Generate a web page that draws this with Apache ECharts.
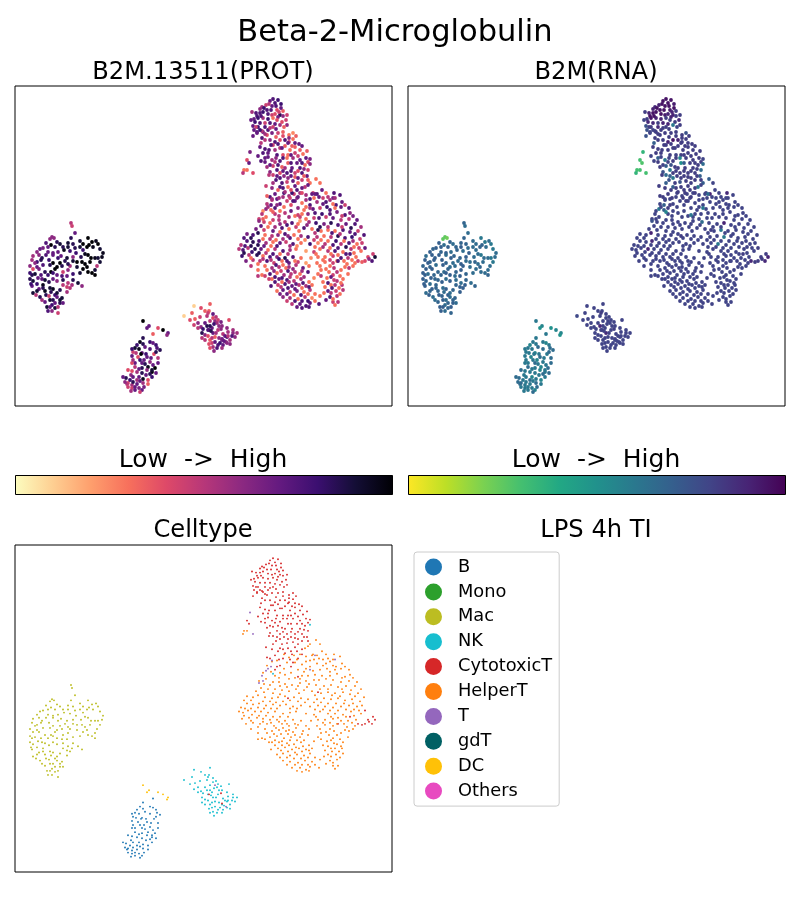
<!DOCTYPE html>
<html><head><meta charset="utf-8">
<script src="https://cdn.jsdelivr.net/npm/echarts@6/dist/echarts.min.js"></script>
<style>html,body{margin:0;padding:0;background:#fff}#c{width:800px;height:900px}</style>
</head><body><div id="c"></div>
<script>
// Each point: [umap x, umap y, protein level, RNA level]
const cytotoxicT = [[255,15,.7,.95],[260,17,.75,.95],[266,18,.8,.92],[251,19,.45,.9],[257,20,.7,.95],[247,21,.55,.88],[252,24,.75,.95],[248,26,.8,.95],[245,27,.75,.95],[237,26,.55,.82],[262,24,.4,.92],[268,25,.35,.82],[265,29,.85,.9],[257,29,.45,.92],[242,30,.75,.95],[239,33,.7,.82],[243,32,.8,.95],[248,32,.55,.9],[258,32,.3,.82],[263,31,.65,.9],[271,34,.45,.88],[267,36,.4,.82],[260,38,.7,.9],[255,37,.75,.9],[250,37,.45,.82],[245,37,.75,.88],[238,40,.7,.75],[243,41,.8,.82],[248,46,.7,.82],[253,44,.75,.82],[258,41,.45,.82],[265,39,.55,.6],[272,39,.6,.82],[242,46,.75,.8],[238,50,.7,.75],[247,45,.5,.82],[252,49,.4,.82],[257,47,.65,.82],[263,47,.45,.82],[268,46,.35,.82],[274,49,.3,.82],[278,47,.25,.75],[242,47,.7,.8],[247,52,.75,.82],[250,54,.5,.82],[255,54,.6,.82],[260,56,.75,.9],[265,54,.4,.95],[270,54,.75,.9],[274,56,.45,.82],[278,53,.3,.82],[284,58,.7,.82],[246,57,.5,.7],[258,59,.45,.82],[270,60,.35,.82],[273,57,.7,.82],[280,61,.35,.82],[245,61,.7,.82],[250,63,.75,.82],[254,64,.75,.82],[260,64,.55,.82],[265,62,.5,.82],[275,64,.3,.82],[285,64,.35,.82],[248,67,.75,.82],[253,67,.7,.82],[262,69,.75,.82],[268,69,.4,.8],[273,69,.3,.82],[280,67,.45,.82],[288,68,.3,.82],[243,70,.7,.8],[250,72,.7,.7],[257,74,.55,.6],[265,75,.75,.82],[272,72,.3,.55],[278,72,.55,.82],[285,74,.7,.82],[295,73,.65,.8],[232,74,.4,.3],[234,77,.7,.28],[246,75,.75,.8],[250,76,.7,.82],[260,76,.5,.8],[267,81,.35,.82],[273,77,.35,.5],[282,77,.7,.82],[290,79,.3,.82],[252,81,.55,.82],[258,80,.45,.7],[270,82,.55,.82],[277,82,.7,.82],[285,82,.75,.82],[293,84,.45,.65],[255,86,.6,.75],[262,84,.75,.6],[258,89,.45,.65],[265,87,.4,.82],[272,87,.75,.82],[280,87,.45,.82],[287,87,.75,.82],[292,90,.7,.7],[254,89,.5,.82],[265,92,.75,.6],[273,92,.6,.82],[280,91,.35,.82],[287,94,.45,.82],[258,97,.55,.7],[267,97,.75,.82],[272,96,.45,.75],[283,97,.35,.82],[251,100,.45,.82],[257,102,.6,.82],[265,101,.75,.7],[273,101,.3,.82],[280,100,.7,.82],[270,106,.55,.82],[277,107,.8,.82],[287,107,.4,.82],[255,111,.75,.82],[252,110,.35,.82],[275,112,.45,.82],[283,111,.7,.82],[268,111,.55,.8],[265,118,.7,.8],[262,119,.6,.82],[260,122,.75,.82],[283,129,.45,.6],[276,119,.4,.8],[350,162,.7,.82],[335,168,.75,.82],[343,175,.45,.88],[347,176,.35,.82],[350,175,.4,.82],[353,171,.4,.82],[358,168,.45,.82],[360,171,.9,.9],[357,175,.75,.88],[354,173,.6,.82],[303,144,.85,.82],[323,175,.75,.8],[273,150,.6,.82],
[258,13,.75,.95],[263,14,.8,.95],[254,18,.5,.95],[261,20,.75,.95],[256,24,.75,.95],[245,23,.6,.9],[249,22,.8,.95],[266,22,.7,.95],[264,26,.45,.9],[241,27,.75,.9],[253,28,.75,.95],[260,28,.4,.9],[268,30,.6,.82],[240,36,.8,.88],[246,30,.75,.95],[253,33,.8,.9],[262,34,.4,.82],[272,29,.45,.82],[236,34,.7,.8],[241,41,.45,.82],[250,41,.75,.88],[255,42,.5,.82],[261,43,.7,.82],[269,41,.35,.8],[245,44,.8,.8],[239,44,.7,.75],[250,48,.55,.82],[261,51,.35,.82],[268,50,.4,.82],[274,52,.6,.82],[281,50,.35,.82],[256,59,.75,.82],[263,58,.75,.82],[280,57,.7,.82],[287,60,.7,.82],[267,62,.7,.82],[277,60,.35,.82],[292,65,.35,.82],[253,71,.7,.8],[261,72,.6,.8],[268,72,.75,.82],[276,69,.7,.82],[283,70,.45,.82],[291,72,.7,.82],[263,79,.75,.75],[276,77,.75,.7],[287,77,.75,.82],[293,76,.4,.82],[255,79,.7,.8],[268,85,.7,.82],[276,85,.75,.82],[283,85,.4,.82],[289,83,.6,.82],[262,90,.7,.7],[269,90,.6,.82],[276,90,.7,.82],[283,92,.7,.82],[289,90,.35,.82],[261,94,.75,.75],[278,95,.7,.82],[293,94,.35,.82],[263,104,.35,.82],[268,102,.75,.82],[276,104,.4,.82],[282,104,.75,.82],[287,102,.7,.82],[260,108,.7,.82],[264,112,.55,.82],[278,115,.75,.82],[194,244,.75,.82],[206,243,.6,.82],[207,253,.7,.82]];
const helperT = [[229,84,.3,.3],[232,84,.3,.3],[228,87,.5,.35],[301,93,.3,.7],[305,97,.3,.8],[295,97,.3,.7],[290,101,.5,.6],[293,99,.7,.8],[298,107,.45,.8],[307,104,.7,.8],[319,107,.75,.88],[325,109,.75,.8],[302,108,.75,.9],[311,107,.3,.8],[308,112,.45,.8],[318,112,.65,.8],[269,107,.8,.8],[279,108,.45,.8],[285,107,.55,.8],[291,109,.55,.8],[297,108,.7,.8],[304,111,.7,.8],[313,111,.5,.8],[274,110,.55,.8],[282,112,.6,.8],[295,113,.75,.8],[252,118,.5,.8],[257,114,.5,.8],[287,117,.3,.8],[295,119,.75,.8],[302,116,.55,.8],[308,118,.7,.8],[315,114,.55,.8],[321,119,.75,.8],[327,116,.7,.8],[330,119,.45,.8],[269,121,.3,.8],[291,121,.3,.8],[256,124,.3,.7],[265,125,.3,.8],[270,127,.5,.8],[276,125,.7,.8],[287,128,.3,.8],[293,128,.6,.8],[300,127,.75,.8],[307,128,.8,.8],[315,124,.75,.8],[322,126,.65,.8],[330,129,.75,.8],[335,127,.6,.8],[338,130,.65,.8],[260,128,.5,.8],[248,125,.25,.8],[274,131,.55,.8],[280,130,.3,.8],[304,132,.75,.8],[311,131,.45,.8],[318,132,.7,.8],[326,134,.5,.8],[244,133,.45,.8],[251,131,.3,.8],[258,134,.45,.8],[264,134,.5,.8],[270,136,.5,.8],[277,137,.75,.8],[285,135,.2,.8],[294,136,.55,.65],[301,137,.8,.8],[309,138,.65,.8],[316,137,.85,.9],[323,139,.75,.8],[331,138,.7,.8],[340,138,.75,.8],[246,140,.7,.8],[253,141,.3,.8],[260,141,.55,.8],[267,142,.75,.8],[274,143,.3,.8],[281,141,.45,.8],[289,142,.75,.8],[297,143,.3,.8],[306,145,.3,.8],[313,144,.3,.6],[320,145,.3,.8],[328,144,.75,.8],[335,146,.7,.8],[343,145,.45,.8],[232,148,.65,.8],[238,149,.75,.8],[243,147,.85,.9],[250,149,.3,.8],[257,150,.5,.8],[263,149,.6,.8],[270,148,.75,.8],[279,149,.3,.8],[286,150,.55,.8],[293,151,.75,.8],[302,151,.5,.8],[309,150,.3,.8],[316,151,.5,.6],[323,150,.85,.8],[330,152,.75,.8],[337,151,.8,.8],[345,153,.45,.8],[226,159,.5,.8],[232,155,.75,.8],[238,156,.85,.8],[244,155,.75,.88],[251,157,.55,.8],[258,156,.3,.8],[265,157,.7,.8],[271,156,.45,.8],[278,158,.75,.8],[286,157,.3,.8],[295,158,.8,.8],[303,157,.25,.8],[310,158,.5,.6],[318,159,.75,.8],[326,158,.5,.8],[334,157,.75,.8],[342,158,.3,.8],[228,164,.75,.8],[233,162,.5,.8],[240,163,.85,.9],[246,163,.7,.8],[253,164,.3,.8],[260,163,.5,.8],[268,165,.75,.8],[275,164,.55,.8],[281,163,.3,.8],[291,165,.2,.8],[299,166,.45,.8],[305,163,.3,.8],[313,165,.5,.8],[320,165,.75,.8],[328,166,.3,.8],[336,163,.5,.8],[344,162,.45,.8],[227,170,.8,.8],[234,169,.5,.8],[242,169,.85,.8],[248,170,.3,.8],[255,171,.75,.8],[262,171,.6,.8],[270,172,.85,.8],[278,171,.75,.8],[286,172,.3,.8],[296,172,.25,.8],[303,171,.3,.8],[310,171,.3,.8],[318,170,.45,.8],[326,172,.75,.8],[333,172,.5,.8],[341,171,.3,.8],[231,175,.65,.8],[238,174,.5,.8],[245,175,.5,.8],[252,175,.75,.8],[259,177,.45,.8],[267,175,.3,.8],[274,177,.7,.8],[283,176,.45,.8],[302,177,.3,.8],[310,176,.3,.8],[318,177,.45,.8],[332,178,.3,.8],[340,177,.3,.8],[236,180,.5,.8],[243,178,.3,.8],[250,180,.3,.8],[257,182,.55,.8],[264,181,.5,.8],[271,182,.3,.8],[278,183,.6,.8],[288,182,.7,.8],[294,180,.3,.8],[311,183,.3,.8],[319,182,.5,.8],[326,184,.3,.8],[334,182,.5,.8],[243,184,.3,.8],[247,189,.3,.8],[255,188,.75,.8],[262,187,.3,.8],[269,189,.55,.8],[276,188,.5,.8],[285,188,.3,.8],[293,186,.75,.8],[303,188,.3,.8],[318,189,.45,.8],[325,190,.3,.8],[333,188,.3,.8],[243,190,.5,.8],[250,190,.45,.8],[257,193,.3,.8],[264,193,.7,.8],[272,194,.75,.8],[279,195,.5,.8],[286,193,.55,.8],[299,192,.25,.8],[316,191,.7,.8],[322,195,.5,.8],[328,193,.3,.8],[256,200,.75,.8],[263,199,.45,.8],[270,198,.75,.8],[277,200,.7,.8],[284,199,.5,.8],[291,200,.55,.8],[297,199,.3,.8],[313,197,.75,.8],[320,199,.5,.8],[327,199,.5,.8],[262,205,.3,.8],[268,204,.7,.8],[275,206,.45,.8],[282,205,.65,.8],[289,206,.3,.8],[295,204,.5,.8],[313,205,.7,.8],[321,205,.45,.8],[328,204,.5,.8],[268,211,.6,.8],[275,212,.55,.8],[283,213,.3,.8],[290,211,.5,.8],[297,212,.25,.8],[305,210,.3,.8],[315,211,.75,.8],[322,210,.5,.8],[277,218,.5,.8],[285,218,.7,.8],[291,220,.75,.8],[295,217,.7,.8],[304,218,.75,.8],[318,216,.45,.8],[323,216,.5,.8],[287,222,.75,.8],
[262,113,.7,.8],[272,115,.45,.8],[280,115,.7,.8],[291,114,.55,.8],[299,112,.3,.8],[311,116,.75,.8],[318,118,.3,.8],[326,121,.7,.8],[334,122,.75,.8],[283,122,.6,.8],[289,124,.3,.8],[298,123,.7,.8],[305,122,.45,.8],[312,121,.8,.8],[320,122,.3,.8],[264,130,.5,.8],[285,131,.45,.8],[291,133,.3,.8],[299,132,.45,.8],[315,128,.75,.8],[327,130,.45,.8],[334,133,.5,.8],[342,134,.7,.8],[249,136,.45,.8],[255,137,.3,.8],[265,138,.6,.8],[272,139,.75,.8],[283,138,.3,.8],[292,139,.6,.8],[305,141,.85,.8],[313,141,.5,.8],[327,141,.45,.8],[336,142,.85,.8],[346,141,.55,.8],[241,143,.65,.8],[249,144,.45,.8],[258,145,.7,.8],[265,146,.3,.8],[284,145,.3,.8],[300,147,.5,.8],[317,147,.75,.8],[325,148,.5,.8],[340,148,.75,.8],[349,149,.75,.8],[229,152,.75,.8],[236,152,.85,.8],[248,153,.3,.8],[255,153,.5,.8],[261,154,.3,.8],[268,153,.55,.8],[275,152,.75,.8],[283,153,.3,.8],[290,154,.25,.8],[299,154,.45,.8],[306,154,.3,.8],[313,155,.3,.8],[321,155,.8,.8],[329,155,.3,.8],[338,155,.55,.8],[347,157,.45,.8],[224,163,.5,.8],[230,160,.75,.8],[236,160,.85,.8],[243,159,.85,.8],[249,160,.7,.8],[256,160,.3,.8],[262,160,.75,.8],[275,160,.55,.8],[282,160,.25,.8],[300,161,.3,.8],[308,161,.55,.8],[315,162,.3,.8],[323,162,.75,.8],[331,161,.85,.8],[339,161,.3,.8],[346,165,.3,.8],[229,167,.85,.8],[237,166,.8,.8],[244,167,.85,.8],[251,167,.5,.8],[258,168,.75,.8],[265,168,.3,.8],[273,168,.5,.8],[301,168,.3,.8],[316,168,.3,.8],[323,169,.3,.8],[331,168,.75,.8],[339,167,.3,.8],[236,172,.3,.8],[248,173,.5,.8],[256,174,.5,.8],[264,173,.8,.8],[272,175,.75,.8],[280,175,.3,.8],[308,174,.3,.8],[315,174,.45,.8],[322,175,.3,.8],[329,175,.3,.8],[337,174,.3,.8],[261,179,.75,.8],[268,179,.3,.8],[274,181,.55,.8],[281,179,.5,.8],[291,177,.2,.8],[305,180,.3,.8],[315,180,.3,.8],[330,181,.3,.8],[338,180,.3,.8],[252,184,.3,.8],[259,185,.6,.8],[266,185,.45,.8],[273,185,.75,.8],[280,186,.5,.8],[287,185,.55,.8],[306,184,.3,.8],[314,186,.3,.8],[322,186,.5,.8],[254,193,.45,.8],[260,191,.75,.8],[267,192,.75,.8],[275,191,.5,.8],[282,191,.3,.8],[289,191,.55,.8],[306,190,.5,.8],[312,192,.3,.8],[319,194,.45,.8],[326,197,.3,.8],[260,196,.75,.8],[267,196,.3,.8],[274,196,.55,.8],[281,198,.7,.8],[288,197,.75,.8],[294,196,.3,.8],[308,196,.3,.8],[316,199,.3,.8],[266,201,.5,.8],[273,202,.75,.8],[280,203,.7,.8],[287,202,.3,.8],[294,201,.75,.8],[310,201,.3,.8],[317,202,.75,.8],[324,202,.3,.8],[265,208,.65,.8],[272,208,.7,.8],[279,209,.3,.8],[286,209,.75,.8],[293,208,.3,.8],[300,208,.3,.8],[309,207,.3,.8],[316,207,.5,.8],[325,208,.3,.8],[272,215,.45,.8],[280,215,.75,.8],[287,215,.75,.8],[293,215,.8,.8],[300,215,.3,.8],[311,214,.7,.8],[318,213,.3,.8],[282,221,.7,.8],[294,221,.75,.8],[320,219,.3,.8]];
const t = [[235,66,.65,.35],[238,87,.4,.3],[251,123,.6,.6],[253,121,.55,.8],[256,119,.7,.7],[257,113,.55,.8],[247,128,.5,.8],[244,135,.6,.75],[248,133,.35,.8],[300,108,.7,.65],[320,112,.55,.8],[295,122,.55,.6],[200,235,.6,.8],[211,256,.6,.8]];
const mac = [[56,137,.5,.68],[57,140,.45,.65],[60,147,.7,.65],[56,152,.85,.68],[37,151,.6,.25],[39,152,.6,.22],[35,153,.6,.25],[42,156,.85,.68],[73,152,1,.6],[65,155,.9,.65],[77,156,1,.6],[81,155,.95,.65],[74,159,1,.68],[53,157,.9,.68],[45,158,.9,.65],[36,159,1,.65],[31,157,.75,.7],[28,162,.65,.7],[25,163,.7,.68],[60,162,.85,.65],[53,161,.9,.7],[65,161,.9,.65],[72,161,1,.68],[78,161,.95,.65],[85,163,.9,.6],[22,166,.6,.7],[18,170,.55,.65],[33,166,.7,.68],[38,167,.7,.7],[43,166,.7,.65],[49,164,.95,.68],[55,165,.8,.65],[61,167,.8,.7],[68,164,.8,.65],[31,169,.75,.7],[38,169,.7,.65],[73,169,1,.6],[87,171,.95,.65],[22,176,.8,.68],[26,174,.85,.7],[38,177,1,.68],[45,177,1,.65],[58,171,.6,.7],[62,176,1,.65],[67,176,1,.68],[70,178,1,.65],[85,176,.9,.6],[20,177,.6,.7],[22,181,.7,.68],[35,179,.85,.7],[28,179,.75,.65],[55,180,.55,.7],[62,181,.9,.65],[72,181,1,.68],[82,180,.5,.65],[80,184,.9,.65],[18,183,.4,.7],[30,186,.85,.68],[36,186,1,.65],[38,187,.8,.7],[48,186,.45,.68],[53,184,.6,.7],[68,183,1,.65],[77,187,1,.65],[80,189,1,.68],[17,189,.85,.7],[20,188,.9,.65],[33,189,.8,.68],[42,189,.7,.7],[47,190,.75,.65],[18,195,.9,.68],[23,192,.7,.7],[27,193,.7,.68],[38,193,.7,.65],[42,195,.6,.7],[58,194,.85,.68],[17,200,.7,.7],[22,198,.8,.65],[28,199,.95,.68],[53,197,.5,.65],[57,199,.55,.7],[67,200,.6,.68],[52,201,.45,.7],[18,207,.9,.65],[21,209,.5,.7],[28,202,.85,.68],[35,202,.9,.65],[38,203,.95,.7],[45,204,.85,.68],[55,202,.5,.7],[27,214,.55,.65],[31,209,.85,.7],[34,210,.45,.68],[40,209,.8,.7],[42,211,.7,.65],[47,212,.9,.68],[32,221,.9,.7],[37,219,.8,.65],[40,217,.7,.68],[45,217,.85,.7],[48,217,.7,.65],[40,222,.9,.68],[35,221,.7,.7],[43,227,.45,.68],
[68,158,1,.65],[83,158,1,.6],[88,167,.95,.65],[70,168,.95,.65],[76,172,1,.65],[80,172,.95,.65],[66,171,.85,.65],[58,158,.85,.68],[48,161,.85,.68],[40,161,.85,.7],[33,161,.7,.7],[24,169,.6,.7],[27,172,.85,.7],[46,170,.7,.68],[52,172,.9,.68],[58,175,.9,.65],[50,175,.85,.65],[43,172,.8,.7],[34,174,.8,.7],[17,174,.55,.7],[15,180,.6,.68],[24,183,.65,.7],[42,181,1,.65],[47,180,.85,.65],[53,178,.85,.7],[75,176,1,.65],[83,172,.9,.6],[15,187,.8,.7],[26,189,.75,.68],[40,183,1,.68],[52,190,.7,.7],[58,188,.8,.68],[65,187,.9,.65],[73,186,1,.65],[15,193,.85,.7],[30,194,.9,.68],[34,196,.85,.7],[48,194,.85,.65],[16,198,.8,.7],[24,203,.7,.7],[30,205,.95,.68],[36,206,.85,.65],[48,199,.5,.68],[63,197,.9,.65],[52,206,.55,.7],[22,205,.9,.68],[25,211,.85,.65],[35,214,.9,.7],[42,207,.9,.65],[45,214,.9,.68],[38,214,.85,.65],[30,216,.7,.68],[33,225,.75,.7],[37,225,.6,.65],[43,221,.5,.7]];
const b = [[138,248,.35,.6],[128,252,.85,.6],[135,256,.8,.6],[138,257,.7,.55],[141,259,.8,.6],[142,262,.75,.65],[125,256,.95,.6],[122,259,.8,.55],[120,262,.9,.6],[130,261,.7,.65],[118,266,.45,.6],[127,267,.7,.55],[117,270,.7,.6],[123,271,.4,.55],[139,268,.4,.6],[143,272,.5,.65],[126,268,1,.6],[129,274,.7,.55],[120,277,.7,.6],[127,277,.7,.65],[117,277,.4,.6],[127,282,.85,.6],[133,281,.95,.55],[138,279,.7,.6],[140,282,1,.65],[137,286,1,.6],[113,284,.4,.65],[116,289,.6,.6],[124,291,.7,.55],[131,289,.7,.6],[135,288,.85,.65],[111,292,.85,.65],[118,291,.7,.6],[133,294,.4,.55],[113,297,.4,.65],[122,298,.7,.6],[128,297,.55,.65],[117,299,.55,.6],[112,298,.5,.65],[124,302,.65,.6],[127,304,.7,.55],[117,302,.45,.6],[125,306,.45,.65],[120,301,.7,.6],[137,284,.9,.6],[132,284,.6,.55],
[131,268,.8,.6],[135,263,.75,.65],[124,263,.95,.6],[117,263,.8,.6],[121,267,.5,.6],[136,272,.7,.6],[132,271,.7,.65],[125,274,.8,.6],[120,281,.5,.65],[124,283,.7,.6],[130,278,.85,.6],[135,276,.6,.6],[143,277,.7,.65],[117,285,.4,.6],[127,287,.85,.6],[122,286,.55,.6],[141,287,.7,.65],[108,291,.7,.65],[115,294,.8,.6],[122,294,.55,.65],[128,293,.95,.6],[137,291,.8,.6],[110,296,.6,.65],[118,296,.85,.6],[125,295,.7,.6],[113,301,.45,.6],[120,304,.7,.6],[129,301,.65,.65],[116,305,.55,.6],[133,298,.35,.6],[141,266,.85,.65],[145,264,.85,.65],[128,258,.85,.6],[118,274,.55,.6]];
const nk = [[195,218,.35,.8],[179,220,.1,.8],[169,230,.1,.78],[177,227,.35,.8],[190,225,.35,.8],[194,225,.35,.8],[193,227,.45,.82],[175,234,.4,.8],[180,233,.35,.8],[198,232,.4,.8],[214,234,.4,.8],[203,234,.45,.8],[183,237,.6,.8],[179,239,.45,.8],[190,237,.7,.8],[195,235,.5,.8],[202,237,.55,.8],[207,240,.6,.8],[212,242,.6,.8],[197,242,.7,.8],[193,244,.75,.8],[183,242,.5,.8],[187,247,.85,.8],[190,249,.6,.8],[198,247,.7,.88],[203,244,.5,.8],[213,246,.55,.8],[218,244,.55,.8],[208,248,.5,.8],[220,251,.6,.8],[200,251,.35,.8],[195,254,.35,.8],[207,254,.65,.8],[215,254,.55,.8],[197,257,.45,.8],[203,259,.75,.8],[208,259,.7,.8],[212,257,.6,.8],[198,261,.55,.8],[199,265,.6,.8],[207,262,.55,.8],[195,262,.4,.8],[218,247,.6,.8],[258,126,.35,.55],[295,78,.6,.65],
[186,222,.4,.8],[192,230,.5,.8],[185,231,.45,.8],[198,228,.7,.8],[201,231,.5,.8],[206,236,.65,.8],[186,241,.6,.8],[195,240,.85,.8],[199,238,.8,.8],[204,240,.6,.8],[192,240,.85,.88],[188,243,.8,.8],[196,245,.85,.8],[201,247,.55,.8],[210,250,.7,.8],[204,252,.6,.8],[193,250,.4,.8],[197,252,.5,.8],[212,251,.75,.8],[217,250,.75,.8],[200,256,.7,.8],[205,257,.8,.8],[194,258,.4,.8],[209,255,.7,.8],[202,262,.75,.8],[213,250,.5,.8],[190,254,.5,.8],[222,247,.55,.8],[215,258,.6,.8],[187,252,.5,.8]];
const dc = [[128,235,1,.6],[134,240,.7,.55],[132,242,.7,.5],[143,242,.4,.5],[148,244,1,.55],[153,247,.7,.55],[152,249,.6,.5]];
const mono = [];
const gdT = [];
const others = [];

const cellTypes = ['B','Mono','Mac','NK','CytotoxicT','HelperT','T','gdT','DC','Others'];
const cellColors = ['#1f77b4','#2ca02c','#bcbd22','#17becf','#d62728','#ff7f0e','#9467bd','#006064','#ffc107','#e84ac0'];
const magmaStops = ['#fcfdbf','#fecf92','#fe9f6d','#f7705c','#de4968','#b73779','#8c2981','#641a80','#3b0f70','#140e36','#000004'];
const viridisStops = ['#fde725','#bddf26','#7ad151','#44bf70','#22a884','#21918c','#2a788e','#355f8d','#414487','#482475','#440154'];
const mainTitle = 'Beta-2-Microglobulin';
const panelTitles = ['B2M.13511(PROT)','B2M(RNA)','Celltype','LPS 4h TI'];
const barLabel = 'Low  ->  High';

const byType = [b,mono,mac,nk,cytotoxicT,helperT,t,gdT,dc,others];
const allPoints = [...helperT,...cytotoxicT,...t,...mac,...b,...nk,...dc];

const font = 'DejaVu Sans';
const grids = [
  {left:15,top:86,width:377,height:320},
  {left:408,top:86,width:377,height:320},
  {left:15,top:545,width:377,height:327}
].map(g=>({...g,show:true,borderColor:'#000',borderWidth:1,backgroundColor:'#fff',containLabel:false}));
const xAxes = grids.map((g,i)=>({type:'value',gridIndex:i,min:0,max:377,show:false}));
const yAxes = grids.map((g,i)=>({type:'value',gridIndex:i,min:0,max:320,inverse:true,show:false}));

const ttl = (text,x,y,size)=>({text,left:x,top:y,textAlign:'center',textVerticalAlign:'middle',padding:0,
  textStyle:{fontFamily:font,fontSize:size,fontWeight:'normal',color:'#000'}});

const bar = (x,stops)=>({type:'rect',left:x,top:475,silent:true,z:10,
  shape:{x:0,y:0,width:377,height:19},
  style:{stroke:'#000',lineWidth:1,fill:new echarts.graphic.LinearGradient(0,0,1,0,
    stops.map((c,i)=>({offset:i/(stops.length-1),color:c})))}});

const chart = echarts.init(document.getElementById('c'),null,{renderer:'canvas'});
chart.setOption({
  animation:false,
  backgroundColor:'#fff',
  title:[
    ttl(mainTitle,395,33,30.5),
    ttl(panelTitles[0],203,73,24.2),
    ttl(panelTitles[1],596,73,24.2),
    ttl(barLabel,203,460,25),
    ttl(barLabel,596,460,25),
    ttl(panelTitles[2],203,530.5,24.2),
    ttl(panelTitles[3],596,530.5,24.2)
  ],
  grid:grids,xAxis:xAxes,yAxis:yAxes,
  visualMap:[
    {show:false,type:'continuous',seriesIndex:0,dimension:2,min:0,max:1,inRange:{color:magmaStops}},
    {show:false,type:'continuous',seriesIndex:1,dimension:3,min:0,max:1,inRange:{color:viridisStops}}
  ],
  legend:{
    orient:'vertical',left:414,top:552,padding:[6,7,6,11],itemGap:6.9,itemWidth:39,itemHeight:17,icon:'circle',
    backgroundColor:'rgba(255,255,255,0.8)',borderColor:'#ccc',borderWidth:1,borderRadius:3,
    selectedMode:false,data:cellTypes,
    textStyle:{fontFamily:font,fontSize:17.8,lineHeight:17,color:'#000'}
  },
  series:[
    {name:'PROT',type:'scatter',xAxisIndex:0,yAxisIndex:0,data:allPoints,symbolSize:3.8,silent:true,itemStyle:{opacity:1}},
    {name:'RNA',type:'scatter',xAxisIndex:1,yAxisIndex:1,data:allPoints,symbolSize:3.8,silent:true,itemStyle:{opacity:1}},
    ...cellTypes.map((n,i)=>({name:n,type:'scatter',xAxisIndex:2,yAxisIndex:2,data:byType[i],symbolSize:1.9,silent:true,
      itemStyle:{color:cellColors[i],opacity:1}}))
  ],
  graphic:[bar(15,magmaStops),bar(408,viridisStops)]
});
</script></body></html>
